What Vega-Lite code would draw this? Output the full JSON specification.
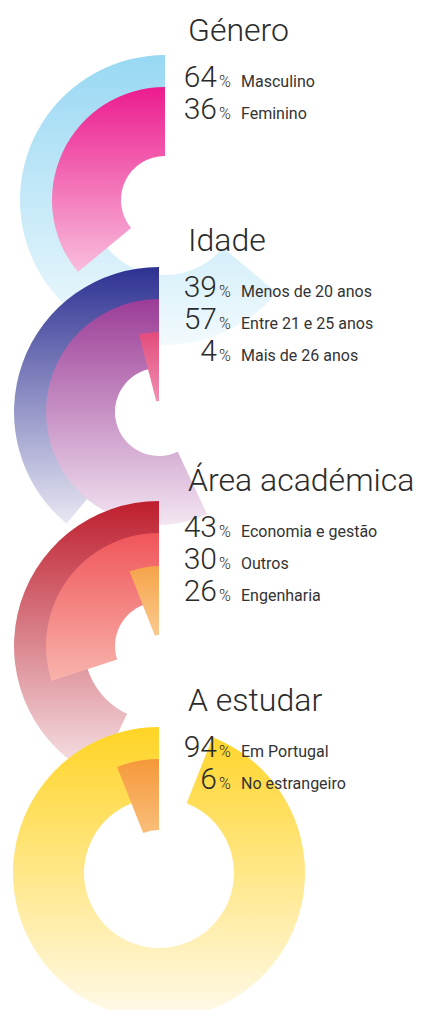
{
  "$schema": "https://vega.github.io/schema/vega-lite/v6.json",
  "width": 422,
  "height": 1010,
  "padding": 0,
  "autosize": {"type": "none"},
  "config": {"view": {"stroke": null}, "text": {"font": "Roboto", "baseline": "alphabetic", "color": "#2b2b2b"}},
  "data": {"values": [
    {"gi": 1, "group": "Género", "rank": 1, "pct": 64, "arc": 64, "label": "Masculino"},
    {"gi": 1, "group": "Género", "rank": 2, "pct": 36, "arc": 36, "label": "Feminino"},
    {"gi": 2, "group": "Idade", "rank": 1, "pct": 39, "arc": 39, "label": "Menos de 20 anos"},
    {"gi": 2, "group": "Idade", "rank": 2, "pct": 57, "arc": 57, "label": "Entre 21 e 25 anos"},
    {"gi": 2, "group": "Idade", "rank": 3, "pct": 4, "arc": 4, "label": "Mais de 26 anos"},
    {"gi": 3, "group": "Área académica", "rank": 1, "pct": 43, "arc": 43, "label": "Economia e gestão"},
    {"gi": 3, "group": "Área académica", "rank": 2, "pct": 30, "arc": 30, "label": "Outros"},
    {"gi": 3, "group": "Área académica", "rank": 3, "pct": 26, "arc": 6, "label": "Engenharia"},
    {"gi": 4, "group": "A estudar", "rank": 1, "pct": 94, "arc": 94, "label": "Em Portugal"},
    {"gi": 4, "group": "A estudar", "rank": 2, "pct": 6, "arc": 6, "label": "No estrangeiro"}
  ]},
  "layer": [
    {
      "encoding": {
        "x": {"field": "gi", "type": "quantitative", "axis": null, "scale": {"domain": [1, 2, 4], "range": [165, 159, 159], "nice": false, "zero": false}},
        "y": {"field": "gi", "type": "quantitative", "axis": null, "scale": {"domain": [1, 2, 3, 4], "range": [200, 412, 646, 873], "nice": false, "zero": false}},
        "theta": {"field": "arc", "type": "quantitative", "scale": {"domain": [0, 100], "range": [6.283185307, 0]}},
        "theta2": {"datum": 0}
      },
      "layer": [
        {"transform": [{"filter": "datum.label === 'Masculino'"}],
         "mark": {"type": "arc", "radius": 145, "radius2": 75, "fill": {"gradient": "linear", "x1": 0, "y1": 0, "x2": 0, "y2": 1, "stops": [{"offset": 0, "color": "#98d8f3"}, {"offset": 1, "color": "#f2fafd"}]}}},
        {"transform": [{"filter": "datum.label === 'Feminino'"}],
         "mark": {"type": "arc", "radius": 113, "radius2": 44, "fill": {"gradient": "linear", "x1": 0, "y1": 0, "x2": 0, "y2": 1, "stops": [{"offset": 0, "color": "#ec1c8e"}, {"offset": 1, "color": "#f9bedd"}]}}},
        {"transform": [{"filter": "datum.label === 'Menos de 20 anos'"}],
         "mark": {"type": "arc", "radius": 145, "radius2": 75, "fill": {"gradient": "linear", "x1": 0, "y1": 0, "x2": 0, "y2": 1, "stops": [{"offset": 0, "color": "#2e3192"}, {"offset": 1, "color": "#e8e8f3"}]}}},
        {"transform": [{"filter": "datum.label === 'Entre 21 e 25 anos'"}],
         "mark": {"type": "arc", "radius": 113, "radius2": 44, "fill": {"gradient": "linear", "x1": 0, "y1": 0, "x2": 0, "y2": 1, "stops": [{"offset": 0, "color": "#9b3c97"}, {"offset": 1, "color": "#f3e6f2"}]}}},
        {"transform": [{"filter": "datum.label === 'Mais de 26 anos'"}],
         "mark": {"type": "arc", "radius": 80, "radius2": 11, "fill": {"gradient": "linear", "x1": 0, "y1": 0, "x2": 0, "y2": 1, "stops": [{"offset": 0, "color": "#e34c7c"}, {"offset": 1, "color": "#f090b2"}]}}},
        {"transform": [{"filter": "datum.label === 'Economia e gestão'"}],
         "mark": {"type": "arc", "radius": 145, "radius2": 75, "fill": {"gradient": "linear", "x1": 0, "y1": 0, "x2": 0, "y2": 1, "stops": [{"offset": 0, "color": "#be1e2d"}, {"offset": 1, "color": "#f6e8eb"}]}}},
        {"transform": [{"filter": "datum.label === 'Outros'"}],
         "mark": {"type": "arc", "radius": 113, "radius2": 44, "fill": {"gradient": "linear", "x1": 0, "y1": 0, "x2": 0, "y2": 1, "stops": [{"offset": 0, "color": "#f0555a"}, {"offset": 1, "color": "#f8b4ac"}]}}},
        {"transform": [{"filter": "datum.label === 'Engenharia'"}],
         "mark": {"type": "arc", "radius": 80, "radius2": 11, "fill": {"gradient": "linear", "x1": 0, "y1": 0, "x2": 0, "y2": 1, "stops": [{"offset": 0, "color": "#f6a34a"}, {"offset": 1, "color": "#fbca8e"}]}}},
        {"transform": [{"filter": "datum.label === 'Em Portugal'"}],
         "mark": {"type": "arc", "radius": 146, "radius2": 75, "fill": {"gradient": "linear", "x1": 0, "y1": 0, "x2": 0, "y2": 1, "stops": [{"offset": 0, "color": "#ffd425"}, {"offset": 1, "color": "#fffaec"}]}}},
        {"transform": [{"filter": "datum.label === 'No estrangeiro'"}],
         "mark": {"type": "arc", "radius": 114, "radius2": 43, "fill": {"gradient": "linear", "x1": 0, "y1": 0, "x2": 0, "y2": 1, "stops": [{"offset": 0, "color": "#f5993a"}, {"offset": 1, "color": "#f9be7a"}]}}}
      ]
    },
    {
      "encoding": {
        "y": {"field": "gi", "type": "quantitative", "axis": null, "scale": {"domain": [1, 2, 3, 4], "range": [87, 297, 537, 757], "nice": false, "zero": false}}
      },
      "layer": [
        {"transform": [{"filter": "datum.rank === 1"}],
         "mark": {"type": "text", "align": "left", "fontWeight": 300, "fontSize": 32, "dy": -46},
         "encoding": {
           "x": {"datum": 0, "type": "quantitative", "axis": null, "scale": {"domain": [0, 1, 2, 3], "range": [188, 217, 219, 241], "nice": false, "zero": false}},
           "text": {"field": "group"}
         }},
        {"transform": [{"filter": "datum.rank === 1"}],
         "layer": [
           {"mark": {"type": "text", "align": "right", "fontWeight": 300, "fontSize": 30},
            "encoding": {"x": {"datum": 1, "type": "quantitative", "axis": null, "scale": {"domain": [0, 1, 2, 3], "range": [188, 217, 219, 241], "nice": false, "zero": false}}, "text": {"field": "pct"}}},
           {"mark": {"type": "text", "align": "left", "fontWeight": 300, "fontSize": 16, "text": "%"},
            "encoding": {"x": {"datum": 2, "type": "quantitative", "axis": null, "scale": {"domain": [0, 1, 2, 3], "range": [188, 217, 219, 241], "nice": false, "zero": false}}}},
           {"mark": {"type": "text", "align": "left", "fontWeight": 400, "fontSize": 16, "color": "#333333"},
            "encoding": {"x": {"datum": 3, "type": "quantitative", "axis": null, "scale": {"domain": [0, 1, 2, 3], "range": [188, 217, 219, 241], "nice": false, "zero": false}}, "text": {"field": "label"}}}
         ]},
        {"transform": [{"filter": "datum.rank === 2"}],
         "layer": [
           {"mark": {"type": "text", "align": "right", "fontWeight": 300, "fontSize": 30, "dy": 32},
            "encoding": {"x": {"datum": 1, "type": "quantitative", "axis": null, "scale": {"domain": [0, 1, 2, 3], "range": [188, 217, 219, 241], "nice": false, "zero": false}}, "text": {"field": "pct"}}},
           {"mark": {"type": "text", "align": "left", "fontWeight": 300, "fontSize": 16, "text": "%", "dy": 32},
            "encoding": {"x": {"datum": 2, "type": "quantitative", "axis": null, "scale": {"domain": [0, 1, 2, 3], "range": [188, 217, 219, 241], "nice": false, "zero": false}}}},
           {"mark": {"type": "text", "align": "left", "fontWeight": 400, "fontSize": 16, "color": "#333333", "dy": 32},
            "encoding": {"x": {"datum": 3, "type": "quantitative", "axis": null, "scale": {"domain": [0, 1, 2, 3], "range": [188, 217, 219, 241], "nice": false, "zero": false}}, "text": {"field": "label"}}}
         ]},
        {"transform": [{"filter": "datum.rank === 3"}],
         "layer": [
           {"mark": {"type": "text", "align": "right", "fontWeight": 300, "fontSize": 30, "dy": 63.5},
            "encoding": {"x": {"datum": 1, "type": "quantitative", "axis": null, "scale": {"domain": [0, 1, 2, 3], "range": [188, 217, 219, 241], "nice": false, "zero": false}}, "text": {"field": "pct"}}},
           {"mark": {"type": "text", "align": "left", "fontWeight": 300, "fontSize": 16, "text": "%", "dy": 63.5},
            "encoding": {"x": {"datum": 2, "type": "quantitative", "axis": null, "scale": {"domain": [0, 1, 2, 3], "range": [188, 217, 219, 241], "nice": false, "zero": false}}}},
           {"mark": {"type": "text", "align": "left", "fontWeight": 400, "fontSize": 16, "color": "#333333", "dy": 63.5},
            "encoding": {"x": {"datum": 3, "type": "quantitative", "axis": null, "scale": {"domain": [0, 1, 2, 3], "range": [188, 217, 219, 241], "nice": false, "zero": false}}, "text": {"field": "label"}}}
         ]}
      ]
    }
  ],
  "resolve": {"scale": {"x": "independent", "y": "independent"}}
}
